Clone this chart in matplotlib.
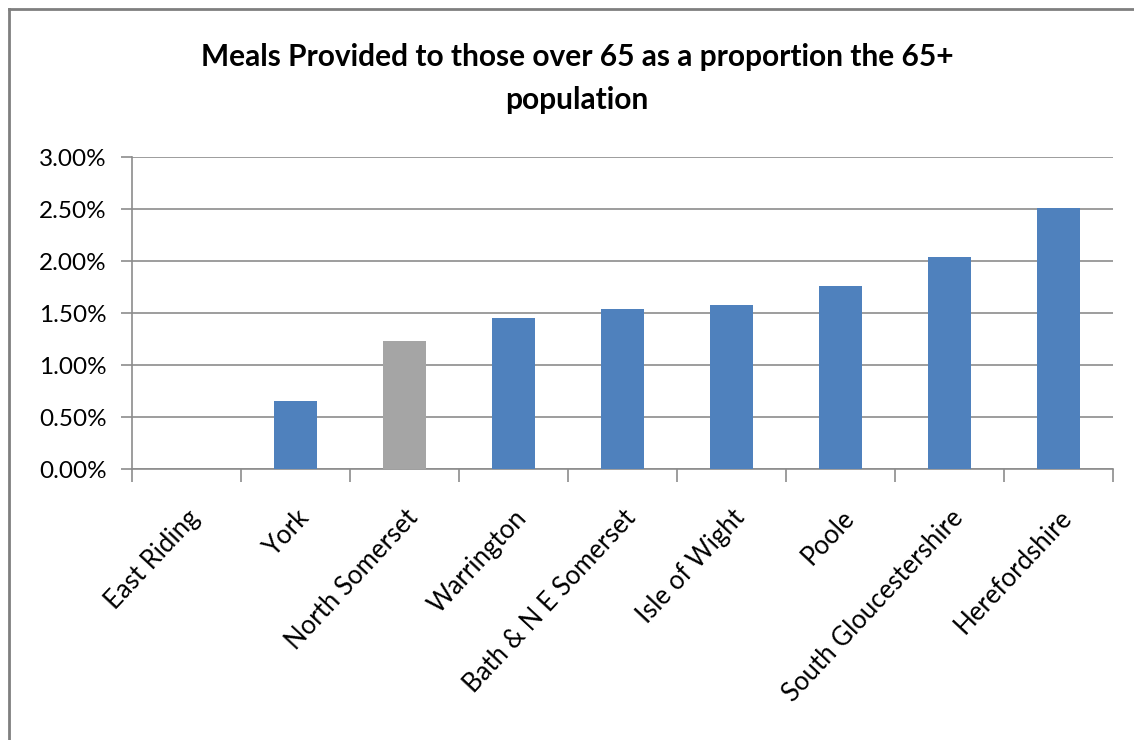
import numpy as np
import matplotlib.pyplot as plt
from matplotlib.lines import Line2D

councils = ['East Riding', 'York', 'North Somerset', 'Warrington', 'Bath & N E Somerset',
            'Isle of Wight', 'Poole', 'South Gloucestershire', 'Herefordshire']
meals_pct = [0.0, 0.65, 1.23, 1.45, 1.54, 1.58, 1.76, 2.04, 2.51]
highlight = 'North Somerset'

blue = '#4f81bd'
grey = '#a5a5a5'
plt.rcParams['font.family'] = ['Lato', 'DejaVu Sans']

fig = plt.figure(figsize=(11.34, 7.40), dpi=100)
ax = fig.add_axes([0.1164, 0.3662, 0.8651, 0.4216])

x = np.arange(len(councils))
colors = [grey if c == highlight else blue for c in councils]
ax.bar(x, meals_pct, width=0.4, color=colors, zorder=3)

ax.set_xlim(-0.5, len(councils) - 0.5)
ax.set_ylim(0, 3.0)
yt = np.arange(0, 3.01, 0.5)
ax.set_yticks(yt)
ax.set_yticklabels(['%.2f%%' % v for v in yt], fontsize=17.5)
ax.yaxis.grid(True, color='#8c8c8c', lw=1.2, zorder=0)

# category ticks between bars, labels at the centres
ax.set_xticks(np.arange(-0.5, len(councils), 1.0))
ax.set_xticklabels([])
ax.set_xticks(x, minor=True)
ax.set_xticklabels(councils, minor=True, rotation=47, ha='right',
                   rotation_mode='anchor', fontsize=18.5)
ax.tick_params(axis='x', which='minor', length=0, pad=26)
ax.tick_params(axis='x', which='major', length=9, color='#8c8c8c', width=1.2)
ax.tick_params(axis='y', length=8, color='#8c8c8c', width=1.2, pad=10)

for s in ['top', 'right']:
    ax.spines[s].set_visible(False)
for s in ['left', 'bottom']:
    ax.spines[s].set_color('#8c8c8c')
    ax.spines[s].set_linewidth(1.2)

fig.text(0.509, 0.923, 'Meals Provided to those over 65 as a proportion the 65+',
         ha='center', va='center', fontsize=21.5, fontweight='bold')
fig.text(0.509, 0.865, 'population', ha='center', va='center',
         fontsize=21.5, fontweight='bold')

# chart frame
fig.add_artist(Line2D([9 / 1134, 9 / 1134], [0, 1 - 9 / 740], transform=fig.transFigure,
                      color='#7f7f7f', lw=2))
fig.add_artist(Line2D([9 / 1134, 1], [1 - 9 / 740, 1 - 9 / 740], transform=fig.transFigure,
                      color='#7f7f7f', lw=2))

fig.savefig('out.png', dpi=100)
